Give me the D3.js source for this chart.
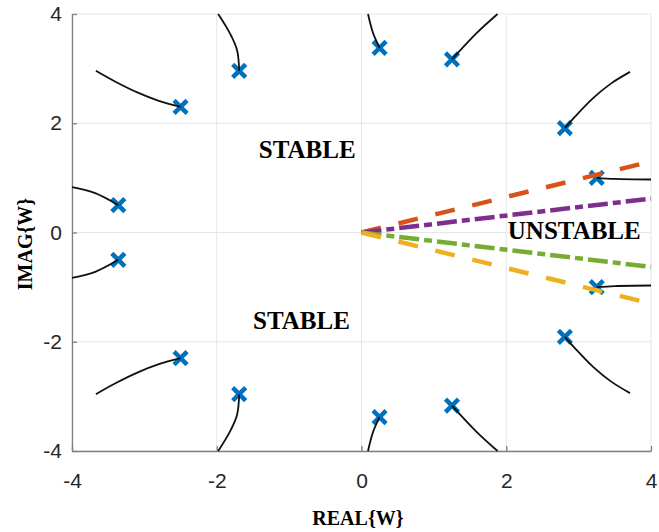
<!DOCTYPE html>
<html>
<head>
<meta charset="utf-8">
<script src="https://cdn.jsdelivr.net/npm/d3@7"></script>
<style>
  body { margin: 0; background: #fff; }
  svg { display: block; }
</style>
</head>
<body>
<script>
// tick values
var xTicks = [-4, -2, 0, 2, 4];
var yTicks = [-4, -2, 0, 2, 4];

// poles (blue x markers)
var poles = [
  [-2.5, 2.3], [-1.69, 2.96], [0.25, 3.38], [1.25, 3.17], [2.81, 1.91], [3.25, 1.0], [-3.36, 0.5],
  [-2.5, -2.3], [-1.69, -2.96], [0.25, -3.38], [1.25, -3.17], [2.81, -1.91], [3.25, -1.0], [-3.36, -0.5]
];

// locus branches (black curves)
var branches = [
  [[-3.67, 2.96], [-3.4, 2.76], [-3.09, 2.56], [-2.8, 2.41], [-2.5, 2.3]],
  [[-1.98, 4.0], [-1.82, 3.65], [-1.72, 3.34], [-1.69, 2.96]],
  [[0.09, 4.0], [0.16, 3.65], [0.25, 3.38]],
  [[1.88, 4.0], [1.59, 3.65], [1.25, 3.17]],
  [[3.71, 2.94], [3.45, 2.73], [3.2, 2.46], [2.95, 2.12], [2.81, 1.91]],
  [[3.25, 1.0], [3.5, 0.98], [4.0, 0.97]],
  [[-4.0, 0.83], [-3.68, 0.72], [-3.36, 0.5]],
  [[-3.67, -2.96], [-3.4, -2.76], [-3.09, -2.56], [-2.8, -2.41], [-2.5, -2.3]],
  [[-1.98, -4.0], [-1.82, -3.65], [-1.72, -3.34], [-1.69, -2.96]],
  [[0.09, -4.0], [0.16, -3.65], [0.25, -3.38]],
  [[1.88, -4.0], [1.59, -3.65], [1.25, -3.17]],
  [[3.71, -2.94], [3.45, -2.73], [3.2, -2.46], [2.95, -2.12], [2.81, -1.91]],
  [[3.25, -1.0], [3.5, -0.98], [4.0, -0.97]],
  [[-4.0, -0.83], [-3.68, -0.72], [-3.36, -0.5]]
];

// stability boundary rays from the origin
var rayEnds = [[4, 1.3], [4, 0.62], [4, -0.63], [4, -1.3]];
var rayColors = ["#D95319", "#7E2F8E", "#77AC30", "#EDB120"];
var rayDash = ["20,18", "20,5,8,5", "20,5,8,5", "20,18"];

// region labels
var regionLabels = [
  { text: "STABLE", x: -0.75, y: 1.52 },
  { text: "STABLE", x: -0.83, y: -1.6 },
  { text: "UNSTABLE", x: 2.94, y: 0.05 }
];

var width = 659, height = 532;

var svg = d3.select("body").append("svg")
  .attr("width", width)
  .attr("height", height);

var x = d3.scaleLinear().domain([-4, 4]).range([72, 651]);
var y = d3.scaleLinear().domain([-4, 4]).range([451, 14]);

// grid
var grid = svg.append("g");
grid.selectAll("line.gx").data(xTicks).enter().append("line")
  .attr("x1", d => x(d)).attr("x2", d => x(d))
  .attr("y1", y(-4)).attr("y2", y(4))
  .attr("stroke", "#e6e6e6").attr("stroke-width", 1);
grid.selectAll("line.gy").data(yTicks).enter().append("line")
  .attr("y1", d => y(d)).attr("y2", d => y(d))
  .attr("x1", x(-4)).attr("x2", x(4))
  .attr("stroke", "#e6e6e6").attr("stroke-width", 1);

// axes (plain hyphen for negatives, like matlab)
var xAxis = d3.axisBottom(x).tickValues(xTicks).tickSize(-5).tickSizeOuter(0).tickPadding(22)
  .tickFormat(d => String(d));
var yAxis = d3.axisLeft(y).tickValues(yTicks).tickSize(-5).tickSizeOuter(0).tickPadding(10)
  .tickFormat(d => String(d));

function styleAxis(g) {
  g.select(".domain").attr("stroke", "#808080").attr("stroke-width", 1.3);
  g.selectAll(".tick line").attr("stroke", "#808080").attr("stroke-width", 1.3);
  g.selectAll(".tick text")
    .attr("fill", "#262626")
    .style("font-family", "'Liberation Sans', Arial, sans-serif")
    .style("font-size", "21px");
}

svg.append("g").attr("transform", "translate(0," + y(-4) + ")").call(xAxis).call(styleAxis);
svg.append("g").attr("transform", "translate(" + x(-4) + ",0)").call(yAxis).call(styleAxis);

// markers
var m = 6.5;
var markers = svg.append("g");
poles.forEach(function(p) {
  var cx = x(p[0]), cy = y(p[1]);
  markers.append("path")
    .attr("d", "M" + (cx - m) + "," + (cy - m) + "L" + (cx + m) + "," + (cy + m) +
               "M" + (cx - m) + "," + (cy + m) + "L" + (cx + m) + "," + (cy - m))
    .attr("stroke", "#0072BD")
    .attr("stroke-width", 4.5)
    .attr("fill", "none");
});

// branches
var line = d3.line().x(d => x(d[0])).y(d => y(d[1])).curve(d3.curveCatmullRom);
svg.append("g").selectAll("path").data(branches).enter().append("path")
  .attr("d", line)
  .attr("fill", "none")
  .attr("stroke", "#111")
  .attr("stroke-width", 1.8);

// rays
svg.append("g").selectAll("line").data(rayEnds).enter().append("line")
  .attr("x1", x(0)).attr("y1", y(0))
  .attr("x2", d => x(d[0])).attr("y2", d => y(d[1]))
  .attr("stroke", (d, i) => rayColors[i])
  .attr("stroke-width", 4.5)
  .attr("stroke-dasharray", (d, i) => rayDash[i]);

// region labels
svg.append("g").selectAll("text").data(regionLabels).enter().append("text")
  .attr("x", d => x(d.x)).attr("y", d => y(d.y))
  .attr("text-anchor", "middle")
  .attr("dy", "0.35em")
  .style("font-family", "'Liberation Serif', 'Times New Roman', serif")
  .style("font-weight", "bold")
  .style("font-size", "25px")
  .attr("fill", "#000")
  .text(d => d.text);

// axis titles
svg.append("text")
  .attr("x", 358).attr("y", 525)
  .attr("text-anchor", "middle")
  .style("font-family", "'Liberation Serif', 'Times New Roman', serif")
  .style("font-weight", "bold")
  .style("font-size", "20px")
  .text("REAL{W}");

svg.append("text")
  .attr("transform", "translate(32,244) rotate(-90)")
  .attr("text-anchor", "middle")
  .style("font-family", "'Liberation Serif', 'Times New Roman', serif")
  .style("font-weight", "bold")
  .style("font-size", "20px")
  .text("IMAG{W}");
</script>
</body>
</html>
